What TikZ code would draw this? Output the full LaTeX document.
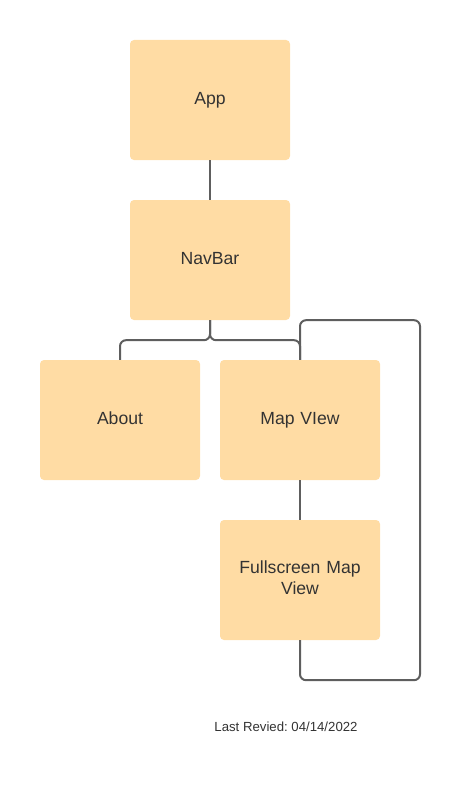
\documentclass[tikz,border=0pt]{standalone}
\usepackage{fontspec}
\setmainfont{Liberation Sans}
\frenchspacing
\definecolor{boxfill}{HTML}{FFDCA4}
\definecolor{linec}{HTML}{5E5E5E}
\definecolor{txt}{HTML}{333333}
\begin{document}
\begin{tikzpicture}[x=1pt,y=-1pt,
  box/.style={fill=boxfill,rounded corners=4pt,minimum width=160pt,minimum height=120pt,
    text=txt,font=\fontsize{17.6}{21}\selectfont,align=center,text width=150pt,inner sep=0pt,
    text height=12.6pt,text depth=4pt},
  twoline/.style={text depth=25pt},
  conn/.style={draw=linec,line width=2pt,rounded corners=6pt}]
\useasboundingbox (0,0) rectangle (460,800);
\node[box] (app) at (210,100) {App};
\node[box] (nav) at (210,260) {NavBar};
\node[box] (about) at (120,420) {About};
\node[box] (map) at (300,420) {Map VIew};
\node[box,twoline] (full) at (300,580) {Fullscreen Map\\View};
\node[text=txt,font=\fontsize{13.2}{16}\selectfont] (rev) at (286,727) {Last Revied: 04/14/2022};
\draw[conn] (app.south) -- (nav.north);
\draw[conn] (nav.south) -- ++(0,20) -| (about.north);
\draw[conn] (nav.south) -- ++(0,20) -| (map.north);
\draw[conn] (full.north) -- (map.south);
\draw[conn] (full.south) -- ++(0,40) -- ++(120,0) -- ++(0,-360) -- ++(-120,0) -- (map.north);
\end{tikzpicture}
\end{document}
